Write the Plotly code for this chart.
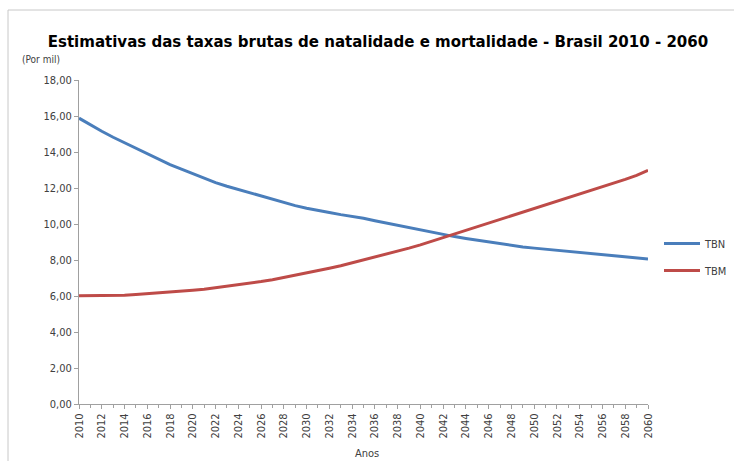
import plotly.graph_objects as go

years = list(range(2010, 2061))
tbn = [15.88, 15.50, 15.15, 14.82, 14.52, 14.22, 13.92, 13.62, 13.30, 13.05,
       12.80, 12.52, 12.30, 12.10, 11.92, 11.72, 11.52, 11.36, 11.20, 11.02,
       10.88, 10.78, 10.64, 10.52, 10.44, 10.32, 10.18, 10.05, 9.95, 9.83,
       9.68, 9.55, 9.42, 9.30, 9.20, 9.10, 9.00, 8.88, 8.80, 8.72,
       8.66, 8.60, 8.52, 8.46, 8.38, 8.32, 8.26, 8.20, 8.14, 8.08,
       8.06]
tbm = [6.02, 6.02, 6.02, 6.03, 6.04, 6.08, 6.12, 6.16, 6.20, 6.25,
       6.32, 6.38, 6.46, 6.52, 6.60, 6.70, 6.80, 6.90, 7.02, 7.14,
       7.28, 7.40, 7.54, 7.68, 7.84, 8.00, 8.14, 8.30, 8.48, 8.66,
       8.84, 9.04, 9.24, 9.44, 9.64, 9.84, 10.04, 10.24, 10.44, 10.66,
       10.86, 11.08, 11.28, 11.48, 11.68, 11.88, 12.08, 12.28, 12.48, 12.70,
       12.98]
tick_years = list(range(2010, 2061, 2))
y_ticks = [0, 2, 4, 6, 8, 10, 12, 14, 16, 18]

FONT = "Liberation Sans Narrow, DejaVu Sans Condensed, Arial Narrow, sans-serif"

fig = go.Figure()
fig.add_trace(go.Scatter(x=years, y=tbn, mode="lines", name="TBN", legendgroup="a",
                         line=dict(color="#4A7EBB", width=3)))
fig.add_trace(go.Scatter(x=years, y=tbm, mode="lines", name="TBM", legendgroup="b",
                         line=dict(color="#BE4B48", width=3)))

W, H = 734, 461
L, R, T, B = 79, 86, 80, 57
pw, ph = W - L - R, H - T - B

def px(x):
    return (x - L) / pw

def py(y):
    return (H - B - y) / ph

fig.update_layout(
    width=W, height=H,
    margin=dict(l=L, r=R, t=T, b=B, autoexpand=False),
    paper_bgcolor="white", plot_bgcolor="white",
    separators=",.",
    font=dict(family=FONT, size=11, color="#404040"),
    title=dict(text="<b>Estimativas das taxas brutas de natalidade e mortalidade - Brasil 2010 - 2060</b>",
               x=px(372), xanchor="center", y=1 - 41 / H, yanchor="middle",
               font=dict(family="DejaVu Sans Condensed, Liberation Sans Narrow, sans-serif",
                         size=16.7, color="#000000")),
    showlegend=True,
    legend=dict(x=px(659), y=py(229), xanchor="left", yanchor="top",
                bgcolor="rgba(0,0,0,0)", tracegroupgap=8, itemwidth=36,
                font=dict(family=FONT, size=11, color="#404040")),
    xaxis=dict(range=[2010, 2060], tickvals=tick_years,
               ticktext=[str(y) for y in tick_years], tickangle=-90,
               showgrid=False, zeroline=False, showline=True,
               linecolor="#A0A0A0", linewidth=1,
               ticks="outside", ticklen=4, tickcolor="#A0A0A0",
               minor=dict(dtick=1, ticks="outside", ticklen=3, tickcolor="#A0A0A0"),
               tickfont=dict(family=FONT, size=11, color="#404040")),
    yaxis=dict(range=[0, 18], tickvals=y_ticks, tickformat=".2f",
               showgrid=False, zeroline=False, showline=True,
               linecolor="#A0A0A0", linewidth=1,
               ticks="outside", ticklen=4, tickcolor="#A0A0A0",
               tickfont=dict(family=FONT, size=11, color="#404040")),
    shapes=[dict(type="rect", xref="paper", yref="paper",
                 x0=px(8), x1=px(760), y0=py(480), y1=py(10),
                 line=dict(color="#C8C8C8", width=1), layer="below")],
    annotations=[
        dict(text="(Por mil)", xref="paper", yref="paper", x=px(20), y=py(60),
             xanchor="left", yanchor="middle", showarrow=False,
             font=dict(family=FONT, size=10, color="#404040")),
        dict(text="Anos", xref="paper", yref="paper", x=px(367), y=py(453),
             xanchor="center", yanchor="middle", showarrow=False,
             font=dict(family=FONT, size=11, color="#404040")),
    ],
)

fig.write_html("out.html", config={"displayModeBar": False},
               post_script="document.body.style.margin='0';document.body.style.overflow='hidden';")
